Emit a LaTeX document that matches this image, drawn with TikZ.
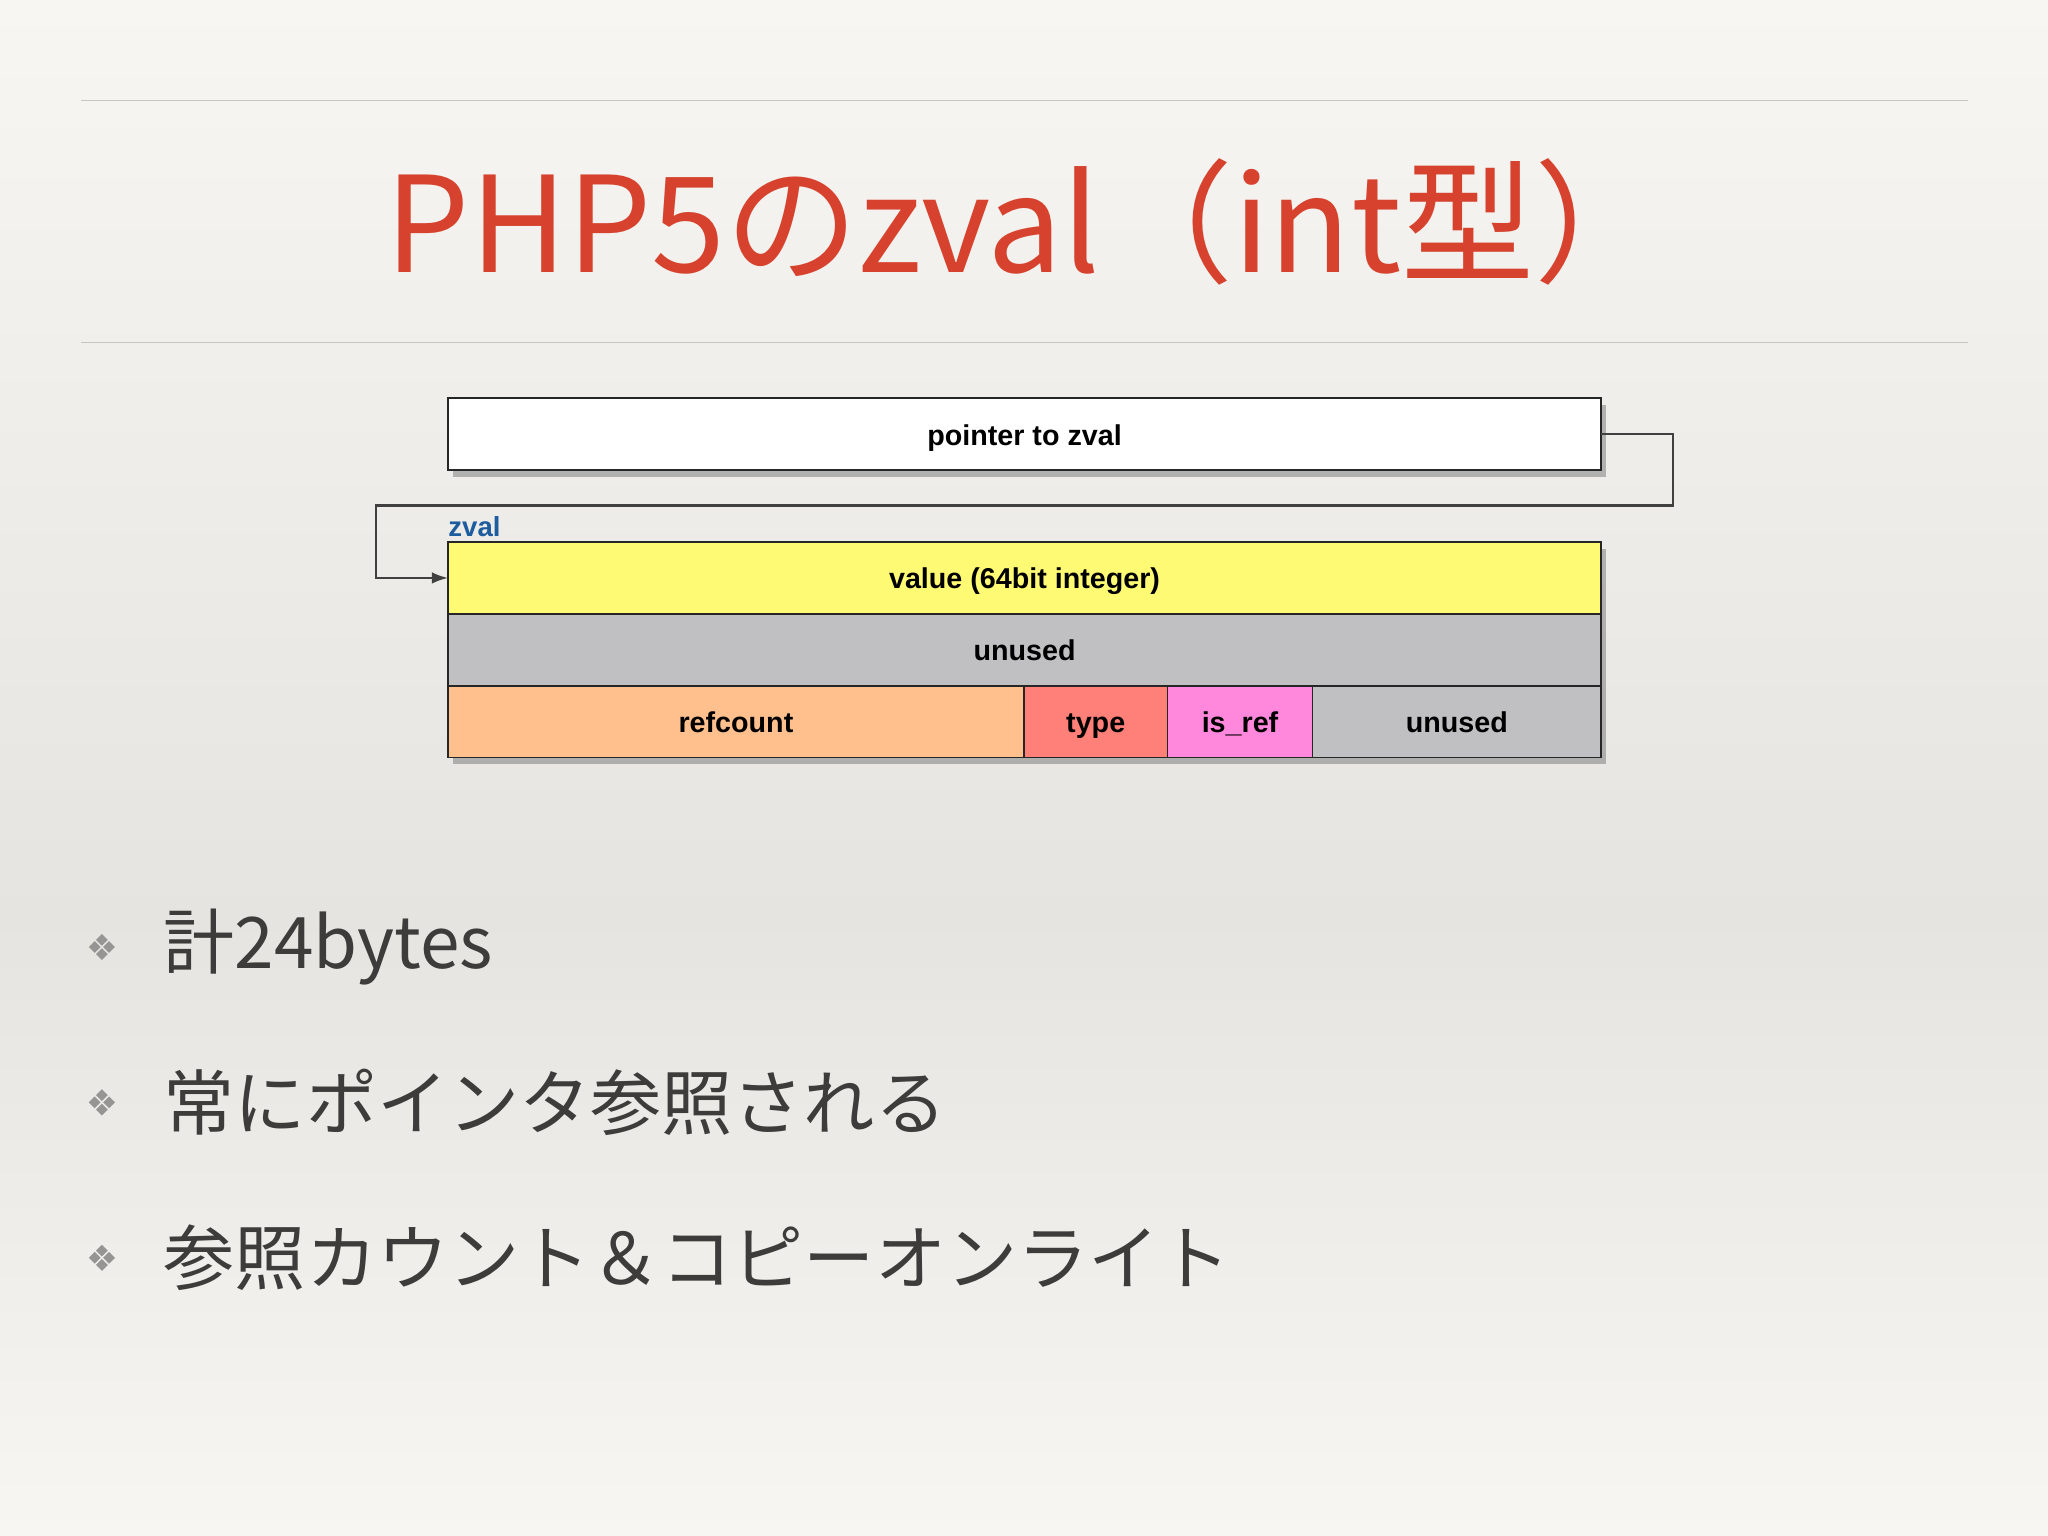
\documentclass[tikz,border=0pt]{standalone}
\usepackage{fontspec}
\setmainfont{Noto Sans CJK JP}
\newfontfamily\boxfont{Liberation Sans}
\usetikzlibrary{positioning}
\usetikzlibrary{shadows}
\usetikzlibrary{arrows.meta}

\definecolor{titlered}{RGB}{214,66,46}
\definecolor{bgtop}{RGB}{247,246,242}
\definecolor{bgmid}{RGB}{229,228,224}
\definecolor{rulegray}{RGB}{198,197,194}
\definecolor{textgray}{RGB}{62,60,58}
\definecolor{gemgray}{RGB}{150,149,147}
\definecolor{valyellow}{RGB}{255,250,116}
\definecolor{unusedgray}{RGB}{192,191,193}
\definecolor{refpeach}{RGB}{255,192,142}
\definecolor{typered}{RGB}{255,128,120}
\definecolor{refpink}{RGB}{255,136,220}
\definecolor{zvalblue}{RGB}{30,92,160}

\tikzset{gem/.pic={
 \foreach \dx/\dy in {0/-5.5,-5.5/0,5.5/0,0/5.5}
 {\fill[gemgray] (\dx,\dy) +(0,-4.5) -- +(4.5,0) -- +(0,4.5) -- +(-4.5,0) -- cycle;}
}}

\begin{document}
\begin{tikzpicture}[x=0.02cm,y=-0.02cm,
cell/.style={draw=black!85, line width=0.8pt, minimum height=1.1cm, inner sep=0pt, outer sep=0pt,
 text height=11pt, text depth=1.5pt,
 font=\boxfont\bfseries\fontsize{12.5}{14}\selectfont,
 drop shadow={shadow xshift=2pt,shadow yshift=-3pt,opacity=0.55}},
link/.style={-{Latex[length=7pt,width=5pt]}, line width=0.9pt, black!75},
item/.style={anchor=west, inner sep=0pt, text=textgray, font=\fontsize{31}{34}\selectfont}]

\useasboundingbox (0,0) rectangle (1568,1176);
\shade[top color=bgtop, bottom color=bgmid] (0,0) rectangle (1568,700);
\shade[top color=bgmid, bottom color=bgtop] (0,700) rectangle (1568,1176);

% title and rules
\draw[rulegray, line width=0.6pt] (62,77) -- (1507,77);
\draw[rulegray, line width=0.6pt] (62,262) -- (1507,262);
\node (title) at (786,170) [text=titlered, font=\fontsize{58}{66}\selectfont] {PHP5のzval（int型）};

% the zval block
\node (ptr) at (343,305) [cell, anchor=north west, fill=white, minimum width=17.66cm] {pointer to zval};
\node (val) at (343,415) [cell, anchor=north west, fill=valyellow, minimum width=17.66cm] {value (64bit integer)};
\node (pad) [cell, below=0 of val, fill=unusedgray, minimum width=17.66cm] {unused};
\node (refc) [cell, below=0 of pad.south west, anchor=north west, fill=refpeach, minimum width=8.82cm] {refcount};
\node (typ) [cell, right=0 of refc, fill=typered, minimum width=2.2cm] {type};
\node (isref) [cell, right=0 of typ, fill=refpink, minimum width=2.22cm] {is\_ref};
\node (pad2) [cell, right=0 of isref, fill=unusedgray, minimum width=4.42cm] {unused};
\node (zlabel) [above right=2pt and 0pt of val.north west, inner sep=0pt, text=zvalblue,
 font=\boxfont\bfseries\fontsize{12}{13}\selectfont] {zval};

\coordinate (loopR) at (1281,387);
\coordinate (loopL) at (288,387);
\draw[link] (ptr.east) -| (loopR) -- (loopL) |- (val.west);

% bullets
\foreach \i/\t in {1/{計24bytes}, 2/{常にポインタ参照される}, 3/{参照カウント＆コピーオンライト}} {
 \pic at (78,606+119*\i) {gem};
 \node (item\i) at (125,606+119*\i) [item] {\t};
}

\end{tikzpicture}
\end{document}
